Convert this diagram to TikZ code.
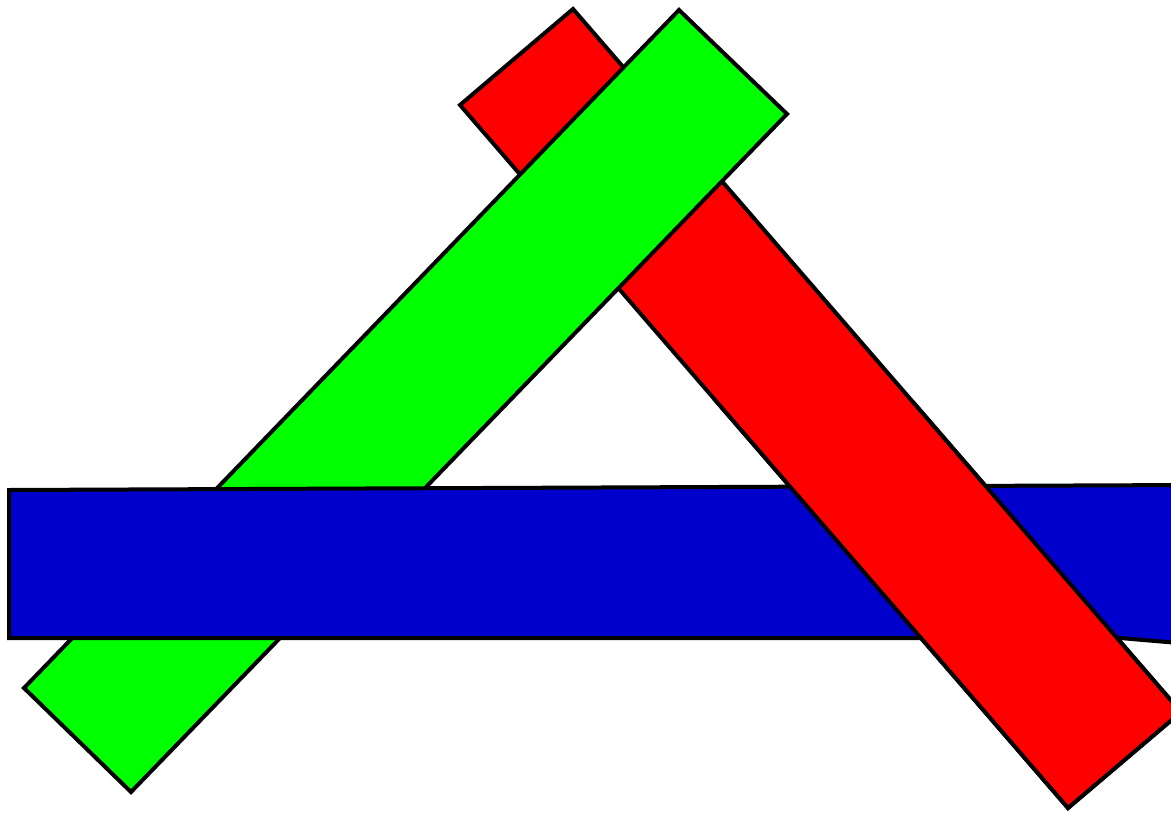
\documentclass[tikz,border=0pt]{standalone}
\definecolor{rred}{RGB}{255,0,0}
\definecolor{ggreen}{RGB}{0,255,0}
\definecolor{bblue}{RGB}{0,0,204}
\tikzset{bar/.style={draw=black,line width=3pt,line join=miter}}
\begin{document}
\begin{tikzpicture}[x=0.75pt,y=-0.75pt]
\useasboundingbox (0,0) rectangle (1171,814);
\clip (0,0) rectangle (1171,814);
\def\redbar{(573,9) -- (1181,712) -- (1068,808) -- (460,105) -- cycle}
\filldraw[bar,fill=rred] \redbar;
\filldraw[bar,fill=ggreen] (679,10) -- (787,114) -- (131,792) -- (24,688) -- cycle;
\filldraw[bar,fill=bblue] (9,490) -- (1190,485) -- (1190,644) -- (1120,638) -- (9,638) -- cycle;
\begin{scope}
\clip (620,400) rectangle (1200,820);
\filldraw[bar,fill=rred] \redbar;
\end{scope}
\end{tikzpicture}
\end{document}
